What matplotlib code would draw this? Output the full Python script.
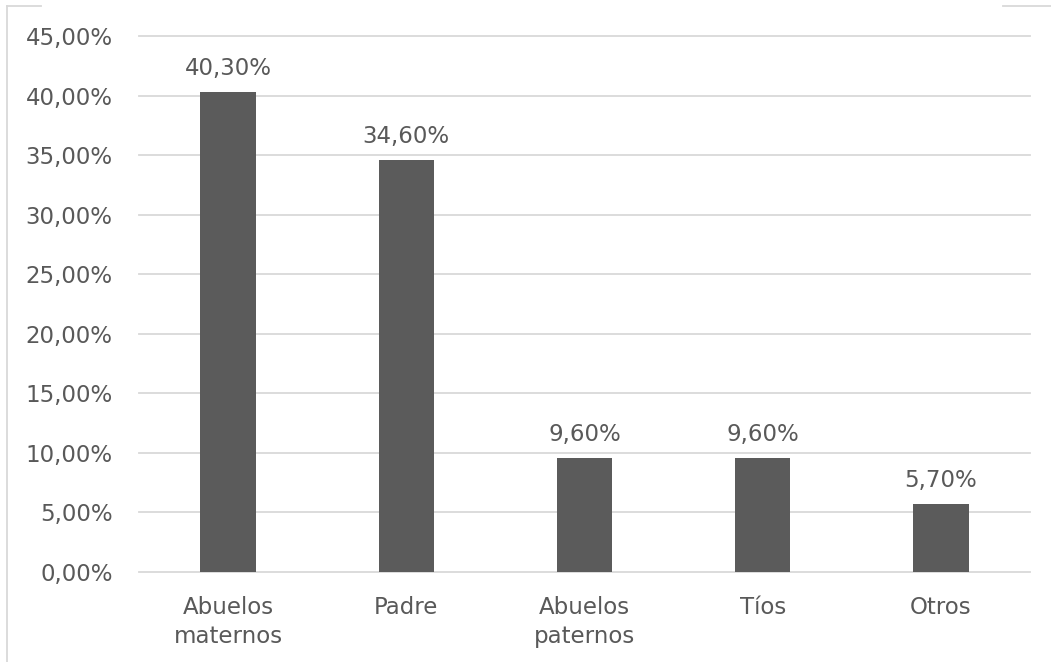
import matplotlib.pyplot as plt
from matplotlib.lines import Line2D
from matplotlib.ticker import FuncFormatter, MultipleLocator

categories = ["Abuelos\nmaternos", "Padre", "Abuelos\npaternos", "Tíos", "Otros"]
values = [40.3, 34.6, 9.6, 9.6, 5.7]

TEXT = "#595959"
BAR = "#5b5b5b"
GRID = "#d9d9d9"

plt.rcParams["font.family"] = ["DejaVu Sans"]

fig = plt.figure(figsize=(10.51, 6.62), dpi=100)
ax = fig.add_axes([139 / 1051, 1 - 572 / 662, 891 / 1051, 536 / 662])

x = range(len(categories))
ax.bar(x, values, width=0.31, color=BAR, zorder=3)

for i, v in zip(x, values):
    ax.text(i, v + 1.0, f"{v:.2f}%".replace(".", ","), ha="center", va="bottom",
            fontsize=16.5, color=TEXT)

ax.set_xlim(-0.5, len(categories) - 0.5)
ax.set_ylim(0, 45)
ax.yaxis.set_major_locator(MultipleLocator(5))
ax.yaxis.set_major_formatter(FuncFormatter(lambda y, _: f"{y:.2f}%".replace(".", ",")))
ax.set_xticks(list(x))
ax.set_xticklabels(categories, linespacing=1.35)

ax.grid(axis="y", color=GRID, linewidth=1.3, zorder=0)
for gl in ax.get_ygridlines():
    gl.set_clip_on(False)
for s in ax.spines.values():
    s.set_visible(False)
ax.tick_params(axis="both", length=0, labelsize=16.5, labelcolor=TEXT)
ax.tick_params(axis="y", pad=19)
ax.tick_params(axis="x", pad=17)

# partial chart frame
fig.add_artist(Line2D([7 / 1051, 7 / 1051], [0, 1 - 6 / 662], color=GRID, lw=1.3))
fig.add_artist(Line2D([7 / 1051, 41 / 1051], [1 - 6 / 662, 1 - 6 / 662], color=GRID, lw=1.3))
fig.add_artist(Line2D([1003 / 1051, 1], [1 - 6 / 662, 1 - 6 / 662], color=GRID, lw=1.3))

fig.savefig("out.png", dpi=100)
